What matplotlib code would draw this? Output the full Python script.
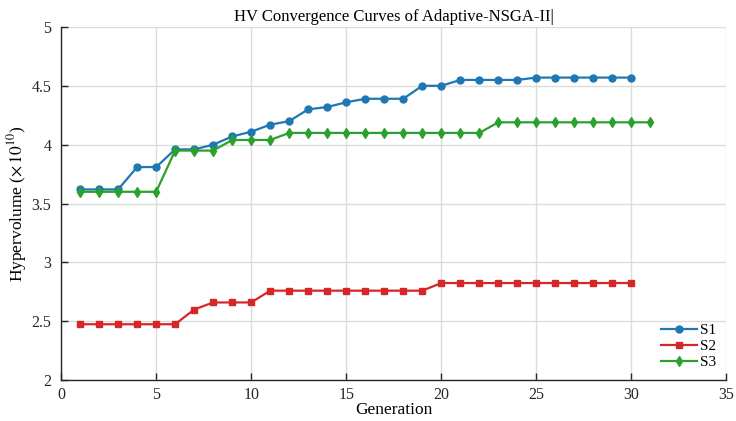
import matplotlib
matplotlib.use("Agg")
import matplotlib.pyplot as plt

# values
gen_s1 = list(range(1, 31))
s1 = [3.62, 3.62, 3.62, 3.81, 3.81, 3.96, 3.96, 4.00, 4.07, 4.11,
      4.17, 4.20, 4.30, 4.32, 4.36, 4.39, 4.39, 4.39, 4.50, 4.50,
      4.55, 4.55, 4.55, 4.55, 4.57, 4.57, 4.57, 4.57, 4.57, 4.57]

gen_s2 = list(range(1, 31))
s2 = [2.475, 2.475, 2.475, 2.475, 2.475, 2.475, 2.60, 2.66, 2.66, 2.66,
      2.76, 2.76, 2.76, 2.76, 2.76, 2.76, 2.76, 2.76, 2.76, 2.825,
      2.825, 2.825, 2.825, 2.825, 2.825, 2.825, 2.825, 2.825, 2.825, 2.825]

gen_s3 = list(range(1, 32))
s3 = [3.60, 3.60, 3.60, 3.60, 3.60, 3.95, 3.95, 3.95, 4.04, 4.04,
      4.04, 4.10, 4.10, 4.10, 4.10, 4.10, 4.10, 4.10, 4.10, 4.10,
      4.10, 4.10, 4.19, 4.19, 4.19, 4.19, 4.19, 4.19, 4.19, 4.19, 4.19]

x_ticks = [0, 5, 10, 15, 20, 25, 30, 35]
y_ticks = [2, 2.5, 3, 3.5, 4, 4.5, 5]

plt.rcParams['font.family'] = ['Liberation Serif', 'DejaVu Serif']
plt.rcParams['mathtext.fontset'] = 'stix'

fig = plt.figure(figsize=(7.36, 4.21), dpi=100)
ax = fig.add_axes([0.083, 0.097, 0.904, 0.839])

ax.plot(gen_s1, s1, color='#1f77b4', marker='o', markersize=5, linewidth=1.6, label='S1')
ax.plot(gen_s2, s2, color='#d62728', marker='s', markersize=4.5, linewidth=1.6, label='S2')
ax.plot(gen_s3, s3, color='#2ca02c', marker='d', markersize=5.5, linewidth=1.6, label='S3')

ax.set_xlim(0, 35)
ax.set_ylim(2, 5)
ax.set_xticks(x_ticks)
ax.set_yticks(y_ticks)
ax.set_xticklabels([str(t) for t in x_ticks])
ax.set_yticklabels(['2', '2.5', '3', '3.5', '4', '4.5', '5'])
ax.tick_params(direction='in', length=5, width=1, colors='#262626', labelsize=11.5)
ax.tick_params(axis='x', pad=5)
ax.tick_params(axis='y', pad=7)

ax.grid(True, color='#dcdcdc', linewidth=1)
ax.set_axisbelow(True)
for side in ['top', 'right']:
    ax.spines[side].set_visible(False)
for side in ['left', 'bottom']:
    ax.spines[side].set_color('#262626')
    ax.spines[side].set_linewidth(1)

ax.set_xlabel('Generation', fontsize=12.5, labelpad=-1)
ax.set_ylabel(r'Hypervolume ($\times\,10^{10}$)', fontsize=12.5, labelpad=2)
ax.set_title('HV Convergence Curves of Adaptive-NSGA-II|', fontsize=12, pad=4)

ax.legend(loc='lower right', frameon=False, fontsize=11, handlelength=2.3,
          handletextpad=0.2, labelspacing=0.15, borderaxespad=0.3)

fig.savefig('out.png', dpi=100)
